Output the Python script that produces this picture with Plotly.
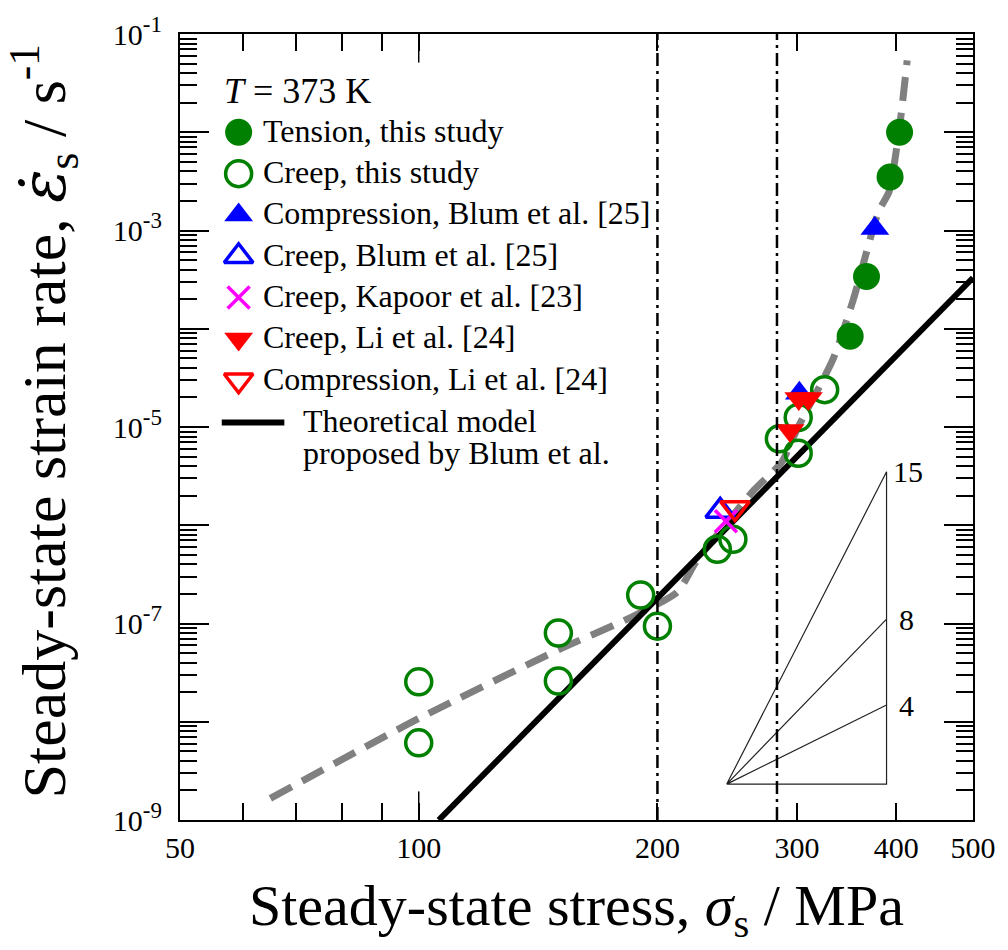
import numpy as np
import plotly.graph_objects as go

# ---------------- data ----------------
tension_x = [350, 367, 393, 404]
tension_y = [8.4e-5, 3.4e-4, 3.5e-3, 1.0e-2]

creep_x = [100, 100, 150, 150, 190.5, 200, 238, 249, 285, 301, 301, 325]
creep_y = [2.55e-8, 6.1e-9, 8.0e-8, 2.6e-8, 1.95e-7, 9.4e-8, 5.7e-7, 7.2e-7,
           7.6e-6, 5.4e-6, 1.25e-5, 2.4e-5]

comp_blum_x = [302, 376]
comp_blum_y = [2.2e-5, 1.05e-3]

creep_blum_x = [240]
creep_blum_y = [1.4e-6]

creep_kapoor_x = [244]
creep_kapoor_y = [1.1e-6]

creep_li_x = [294, 301.5, 310]
creep_li_y = [9.2e-6, 1.95e-5, 1.95e-5]

comp_li_x = [250.5]
comp_li_y = [1.5e-6]

model_x = [106, 500]
model_y = [1.0e-9, 3.3e-4]

fit_x = [65, 100, 150, 185, 212, 224, 265, 287, 300, 333, 353, 380, 392, 405, 413]
fit_y = [1.66e-9, 1.08e-8, 5.4e-8, 1.15e-7, 2.1e-7, 4.3e-7, 2.3e-6, 4.4e-6,
         9.5e-6, 4.9e-5, 1.95e-4, 1.56e-3, 2.5e-3, 1.34e-2, 5.4e-2]

vlines_x = [200, 283]

tri_x = [244.6, 389]
tri_y0 = 2.32e-9
tri_slopes = ["15", "8", "4"]
tri_top = [3.5e-6, 1.11e-7, 1.48e-8]

x_ticks = [50, 100, 200, 300, 400, 500]
x_minor = [60, 70, 80, 90]
y_ticks = [1e-9, 1e-8, 1e-7, 1e-6, 1e-5, 1e-4, 1e-3, 1e-2, 1e-1]
y_exponents = ["-9", "", "-7", "", "-5", "", "-3", "", "-1"]
y_minor = [m * 10.0 ** e for e in range(-9, -1) for m in range(2, 10)]

legend_labels = ["Tension, this study", "Creep, this study",
                 "Compression, Blum et al. [25]", "Creep, Blum et al. [25]",
                 "Creep, Kapoor et al. [23]", "Creep, Li et al. [24]",
                 "Compression, Li et al. [24]"]

# ---------------- layout geometry ----------------
W, H = 1008, 950
L, R, T, B = 180, 30, 23, 130
PW, PH = W - L - R, H - T - B
FONT = "Liberation Serif"
GREEN, BLUE, RED, MAG = "#008000", "#0000ff", "#ff0000", "#ff00ff"

y_ticktext = [("10<sup><span style='font-size:23px'>%s</span></sup>" % e) if e else ""
              for e in y_exponents]


def fx(px):
    return (px - L) / PW


def fy(py):
    return (H - B - py) / PH


def open_marker(symbol, size, color):
    return dict(symbol=symbol, size=size, color=color, line=dict(color=color, width=3.5))


fig = go.Figure()

# fitted (grey dashed) curve
fig.add_trace(go.Scatter(x=fit_x, y=fit_y, mode="lines",
                         line=dict(color="#808080", width=7, dash="24px,12px",
                                   shape="spline", smoothing=0.6),
                         hoverinfo="skip"))
# model line
fig.add_trace(go.Scatter(x=model_x, y=model_y, mode="lines",
                         line=dict(color="black", width=6), hoverinfo="skip"))

# slope triangle
x0, x1 = tri_x
tx = [x0, x1, x1, x0, x1, x0, x1]
ty = [tri_y0, tri_y0, tri_top[0], tri_y0, tri_top[1], tri_y0, tri_top[2]]
fig.add_trace(go.Scatter(x=tx, y=ty, mode="lines",
                         line=dict(color="#222222", width=1.2), hoverinfo="skip"))

mk = dict(mode="markers", hoverinfo="skip")
st_tension = dict(symbol="circle", size=27, color=GREEN)
st_creep = open_marker("circle-open", 26, GREEN)
st_comp_blum = dict(symbol="triangle-up", size=25, color=BLUE)
st_creep_blum = open_marker("triangle-up-open", 25, BLUE)
st_kapoor = open_marker("x-thin-open", 22, MAG)
st_creep_li = dict(symbol="triangle-down", size=25, color=RED)
st_comp_li = open_marker("triangle-down-open", 25, RED)

fig.add_trace(go.Scatter(x=tension_x, y=tension_y, marker=st_tension, **mk))
fig.add_trace(go.Scatter(x=comp_blum_x, y=comp_blum_y, marker=st_comp_blum, **mk))
fig.add_trace(go.Scatter(x=creep_x, y=creep_y, marker=st_creep, **mk))
fig.add_trace(go.Scatter(x=creep_blum_x, y=creep_blum_y, marker=st_creep_blum, **mk))
fig.add_trace(go.Scatter(x=creep_kapoor_x, y=creep_kapoor_y, marker=st_kapoor, **mk))
fig.add_trace(go.Scatter(x=creep_li_x, y=creep_li_y, marker=st_creep_li, **mk))
fig.add_trace(go.Scatter(x=comp_li_x, y=comp_li_y, marker=st_comp_li, **mk))

# ---------------- manual legend (overlay axes in plot fractions) ----------------
leg_x = 239
leg_y0, leg_dy = 122.7, 41.9
leg_styles = [st_tension, st_creep, st_comp_blum, st_creep_blum, st_kapoor,
              st_creep_li, st_comp_li]
annotations = []
for i, (lab, st) in enumerate(zip(legend_labels, leg_styles)):
    py = leg_y0 + i * leg_dy
    fig.add_trace(go.Scatter(x=[fx(leg_x)], y=[fy(py)], xaxis="x2", yaxis="y2",
                             mode="markers", marker=st, hoverinfo="skip"))
    annotations.append(dict(text=lab, xref="paper", yref="paper", x=fx(262),
                            y=fy(py - 1.5), xanchor="left", yanchor="middle",
                            showarrow=False, font=dict(family=FONT, size=32, color="black")))
# model line in legend
fig.add_trace(go.Scatter(x=[fx(222), fx(285)], y=[fy(417), fy(417)], xaxis="x2", yaxis="y2",
                         mode="lines", line=dict(color="black", width=6), hoverinfo="skip"))
annotations.append(dict(text="Theoretical model", xref="paper", yref="paper", x=fx(302),
                        y=fy(415), xanchor="left", yanchor="middle", showarrow=False,
                        font=dict(family=FONT, size=32, color="black")))
annotations.append(dict(text="proposed by Blum et al.", xref="paper", yref="paper", x=fx(302),
                        y=fy(448), xanchor="left", yanchor="middle", showarrow=False,
                        font=dict(family=FONT, size=32, color="black")))
annotations.append(dict(text="<i>T</i> = 373 K", xref="paper", yref="paper", x=fx(222),
                        y=fy(81), xanchor="left", yanchor="middle", showarrow=False,
                        font=dict(family=FONT, size=36, color="black")))

# slope labels
for lab, yt in zip(tri_slopes, tri_top):
    annotations.append(dict(text=lab, xref="x", yref="y", x=np.log10(x1), y=np.log10(yt),
                            xanchor="left", yanchor="middle", xshift=4 if lab == "15" else 10,
                            showarrow=False, font=dict(family=FONT, size=30, color="black")))

# axis titles
annotations.append(dict(text="Steady-state stress, <i>σ</i><sub>s</sub> / MPa",
                        xref="paper", yref="paper", x=0.5, y=fy(911),
                        xanchor="center", yanchor="middle", showarrow=False,
                        font=dict(family=FONT, size=58, color="black")))
annotations.append(dict(
    text=("Steady-state strain rate, "
          "<span style=\"font-family:'DejaVu Serif'\"><i>ε̇</i></span>"
          "<sub>s</sub> / s<sup>-1</sup>"),
    xref="paper", yref="paper", x=fx(43), y=fy(416), textangle=-90,
    xanchor="center", yanchor="middle", showarrow=False,
    font=dict(family=FONT, size=62, color="black")))

shapes = []
for xv in vlines_x:
    shapes.append(dict(type="line", xref="x", yref="paper", x0=xv, x1=xv, y0=0, y1=1,
                       line=dict(color="black", width=2.5, dash="13px,5px,3px,5px")))
# long major tick at 100 (bottom and top)
tl = 29 / PH
shapes.append(dict(type="line", xref="x", yref="paper", x0=100, x1=100, y0=0, y1=tl,
                   line=dict(color="black", width=1.5)))
shapes.append(dict(type="line", xref="x", yref="paper", x0=100, x1=100, y0=1 - tl, y1=1,
                   line=dict(color="black", width=1.5)))

axis_common = dict(showgrid=False, zeroline=False, showline=True, linecolor="black",
                   linewidth=2, mirror="allticks", ticks="inside", tickcolor="black",
                   tickwidth=1.5)

fig.update_layout(
    width=W, height=H, margin=dict(l=L, r=R, t=T, b=B, pad=0),
    paper_bgcolor="white", plot_bgcolor="white", showlegend=False,
    font=dict(family=FONT, color="black"),
    xaxis=dict(type="log", range=[np.log10(50), np.log10(500)], tickmode="array",
               tickvals=x_ticks, ticktext=[str(v) for v in x_ticks], ticklen=17,
               tickfont=dict(family=FONT, size=30, color="black"),
               minor=dict(tickmode="array", tickvals=x_minor, ticks="inside", ticklen=17,
                          tickcolor="black", tickwidth=1.5),
               **axis_common),
    yaxis=dict(type="log", range=[-9, -1], tickmode="array", tickvals=y_ticks,
               ticktext=y_ticktext, ticklen=29, ticklabelstandoff=10,
               tickfont=dict(family=FONT, size=30, color="black"),
               minor=dict(tickmode="array", tickvals=y_minor, ticks="inside", ticklen=17,
                          tickcolor="black", tickwidth=1.5),
               **axis_common),
    xaxis2=dict(overlaying="x", range=[0, 1], visible=False, fixedrange=True),
    yaxis2=dict(overlaying="y", range=[0, 1], visible=False, fixedrange=True),
    annotations=annotations, shapes=shapes,
)

fig.write_html("out.html")
